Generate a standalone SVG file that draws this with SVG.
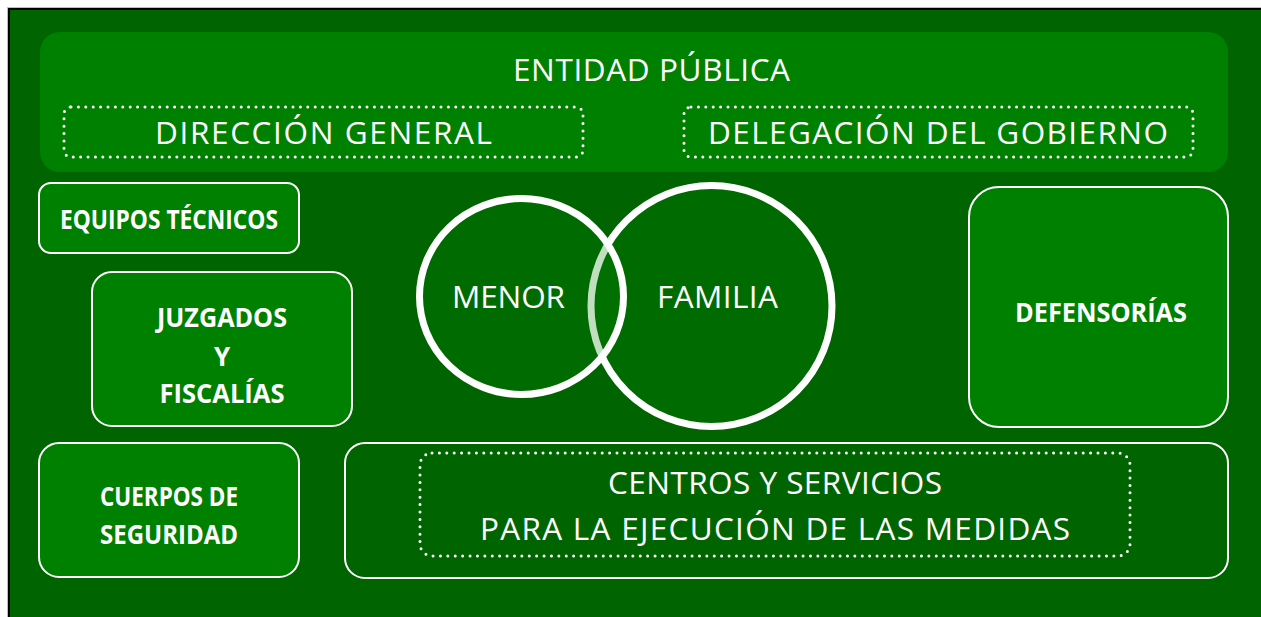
<svg xmlns="http://www.w3.org/2000/svg" width="1261" height="617" viewBox="0 0 1261 617">
  <style>
    .panel { fill: #008000; }
    .box { fill: #008000; stroke: #ffffff; stroke-width: 2; }
    .boxdark { fill: #006400; stroke: #ffffff; stroke-width: 2; }
    .dots { fill: none; stroke: #ffffff; stroke-width: 3; stroke-linecap: round; stroke-dasharray: 0 7.4; }
    .reg { font-family: "Open Sans", "Noto Sans", sans-serif; font-size: 31.5px; fill: #ffffff; text-anchor: middle; }
    .bold { font-family: "Open Sans", "Noto Sans", sans-serif; font-size: 26px; font-weight: bold; fill: #ffffff; text-anchor: middle; }
    .ring { fill: #008000; fill-opacity: 0.25; stroke: #ffffff; stroke-width: 7; }
  </style>
  <rect x="0" y="0" width="1261" height="617" fill="#ffffff"/>
  <rect x="7" y="7" width="1260" height="620" fill="#bdbdbd"/>
  <rect x="8" y="8" width="1260" height="620" fill="#000000"/>
  <rect x="10" y="10" width="1260" height="620" fill="#006400"/>

  <g id="entidad-publica">
    <rect class="panel" x="40" y="32" width="1188" height="140" rx="20"/>
    <text class="reg" x="651.5" y="81" textLength="277" lengthAdjust="spacing">ENTIDAD PÚBLICA</text>
  </g>
  <g id="direccion-general">
    <rect class="dots" x="64" y="107" width="519" height="50" rx="7"/>
    <text class="reg" x="323.5" y="144" textLength="337" lengthAdjust="spacing">DIRECCIÓN GENERAL</text>
  </g>
  <g id="delegacion-gobierno">
    <rect class="dots" x="684" y="107" width="509" height="50" rx="7"/>
    <text class="reg" x="938" y="144" textLength="460" lengthAdjust="spacing">DELEGACIÓN DEL GOBIERNO</text>
  </g>

  <g id="equipos-tecnicos">
    <rect class="box" x="39" y="183" width="260" height="70" rx="12"/>
    <text class="bold" x="169" y="229" textLength="218" lengthAdjust="spacingAndGlyphs">EQUIPOS TÉCNICOS</text>
  </g>
  <g id="juzgados-fiscalias">
    <rect class="box" x="92" y="272" width="260" height="154" rx="20"/>
    <text class="bold" x="222" y="327" textLength="130" lengthAdjust="spacingAndGlyphs">JUZGADOS</text>
    <text class="bold" x="222" y="366">Y</text>
    <text class="bold" x="222" y="403" textLength="125" lengthAdjust="spacingAndGlyphs">FISCALÍAS</text>
  </g>
  <g id="cuerpos-seguridad">
    <rect class="box" x="39" y="443" width="260" height="134" rx="20"/>
    <text class="bold" x="169" y="506" textLength="138" lengthAdjust="spacingAndGlyphs">CUERPOS DE</text>
    <text class="bold" x="169" y="544" textLength="138" lengthAdjust="spacingAndGlyphs">SEGURIDAD</text>
  </g>
  <g id="defensorias">
    <rect class="box" x="969" y="187" width="259" height="240" rx="30"/>
    <text class="bold" x="1101" y="322" textLength="172" lengthAdjust="spacingAndGlyphs">DEFENSORÍAS</text>
  </g>
  <g id="centros-servicios">
    <rect class="boxdark" x="345" y="443" width="883" height="135" rx="20"/>
    <rect class="dots" x="420" y="453" width="710" height="103" rx="12"/>
    <text class="reg" x="775" y="494" textLength="334" lengthAdjust="spacing">CENTROS Y SERVICIOS</text>
    <text class="reg" x="775" y="540" textLength="590" lengthAdjust="spacing">PARA LA EJECUCIÓN DE LAS MEDIDAS</text>
  </g>

  <g id="familia">
    <circle class="ring" cx="711.5" cy="306" r="120.5"/>
    <text class="reg" x="717.5" y="308" textLength="121" lengthAdjust="spacing">FAMILIA</text>
  </g>
  <g id="menor">
    <ellipse class="ring" cx="521.5" cy="296.5" rx="102" ry="98"/>
    <text class="reg" x="508.5" y="308" textLength="113" lengthAdjust="spacing">MENOR</text>
  </g>
  <g id="connectors"></g>
</svg>
